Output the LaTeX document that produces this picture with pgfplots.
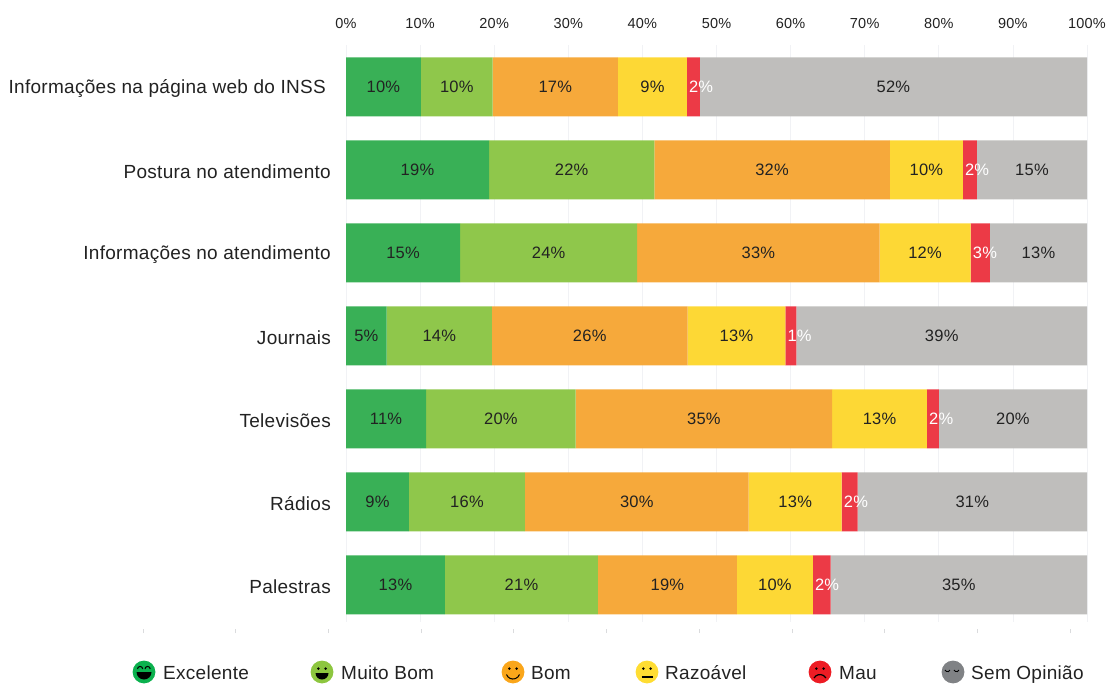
\documentclass[border=0pt]{standalone}
\usepackage{pgfplots}
\usepackage{pgfplotstable}
\usepackage{fontspec}
\setmainfont[LetterSpace=1.5]{Liberation Sans}
\pgfplotsset{compat=1.18}

\definecolor{cExc}{HTML}{39B056}
\definecolor{cMui}{HTML}{8FC74B}
\definecolor{cBom}{HTML}{F6A93B}
\definecolor{cRaz}{HTML}{FDD835}
\definecolor{cMau}{HTML}{EC3A46}
\definecolor{cSem}{HTML}{BFBEBC}
\definecolor{kExc}{HTML}{0BB14E}
\definecolor{kMui}{HTML}{8DC63F}
\definecolor{kBom}{HTML}{FAA61A}
\definecolor{kRaz}{HTML}{FFDD33}
\definecolor{kMau}{HTML}{ED1C24}
\definecolor{kSem}{HTML}{808285}
\definecolor{inkText}{HTML}{222222}
\definecolor{gridPale}{HTML}{F1F2F5}

% Percentages per channel, top row first; labels are these values rounded.
\pgfplotstableread{
row exc  mui  bom   raz  mau   sem
0   10.1 9.7  16.9  9.3  1.75  52.25
1   19.3 22.3 31.8  9.85 1.9   14.85
2   15.4 23.9 32.7  12.3 2.6   13.1
3   5.49 14.2 26.4  13.2 1.49  39.22
4   10.8 20.2 34.6  12.8 1.6   20.0
5   8.5  15.65 30.2 12.55 2.15 30.95
6   13.35 20.65 18.75 10.25 2.4 34.6
}\channels

% Legend key: a disc with a face drawn on it
\newcommand{\facekey}[3]{%
  \begin{scope}[shift={(#1,11)}]
    \fill[#2] (0,0) circle (11.4);
    #3
  \end{scope}}
\newcommand{\eyes}{\fill[black] (-3.6,3.4) circle (1.4) (3.6,3.4) circle (1.4);}
\newcommand{\legendtext}[2]{\node[anchor=base west,inner sep=0pt,text=inkText,font=\fontsize{19}{22}\selectfont] at (#1,3.5) {#2};}

\begin{document}
\begin{tikzpicture}[x=1pt,y=1pt]
\path[use as bounding box] (0,0) rectangle (1107,683);

% Faint ruler ticks under the chart
\begin{axis}[
  at={(143pt,54pt)}, anchor=south west,
  scale only axis, width=927pt, height=1pt,
  xmin=0, xmax=10, ymin=0, ymax=1,
  xtick={0,1,2,3,4,5,6,7,8,9,10}, ytick=\empty,
  xticklabels={}, axis x line=bottom, axis y line=none,
  axis line style={draw=none},
  tick align=outside, tickwidth=4pt,
  x tick style={draw=gridPale!80!gray, line width=0.8pt},
]
\end{axis}

\begin{axis}[
  at={(346pt,638pt)}, anchor=north west,
  scale only axis,
  width=741pt, height=577pt,
  xbar stacked, bar width=59pt,
  xmin=0, xmax=100,
  ymin=-0.506, ymax=6.446, y dir=reverse,
  axis line style={draw=none},
  major tick length=0pt,
  xmajorgrids, grid style={gridPale, line width=0.8pt},
  xtick={0,10,...,100},
  xticklabel={\pgfmathprintnumber{\tick}\%},
  xticklabel pos=top,
  /pgf/number format/assume math mode=true,
  xticklabel style={font=\fontsize{14.5}{16}\selectfont, text=inkText, yshift=13pt},
  ytick={0,...,6},
  yticklabels={Informações na página web do INSS\kern5pt, Postura no atendimento, Informações no atendimento, Journais, Televisões, Rádios, Palestras},
  yticklabel style={font=\fontsize{19}{20}\selectfont, text=inkText, xshift=-15pt, yshift=-1.5pt, inner sep=0pt},
  clip=false,
  visualization depends on={rawx\as\segv},
  nodes near coords={\pgfmathprintnumber[fixed,precision=0]{\segv}\%},
  every node near coord/.append style={
    font=\fontsize{16.5}{18}\selectfont, text=inkText,
    anchor=center, inner sep=0pt},
]
\addplot[fill=cExc,draw=none] table[x=exc,y=row] {\channels};
\addplot[fill=cMui,draw=none] table[x=mui,y=row] {\channels};
\addplot[fill=cBom,draw=none] table[x=bom,y=row] {\channels};
\addplot[fill=cRaz,draw=none] table[x=raz,y=row] {\channels};
% The narrow red segments carry white labels that start just inside the bar
\addplot[fill=cMau,draw=none,
  every node near coord/.append style={anchor=west, text=white, xshift=-\segv*3.705pt+2pt}] table[x=mau,y=row] {\channels};
\addplot[fill=cSem,draw=none] table[x=sem,y=row] {\channels};
\end{axis}

% Legend keys
\facekey{144}{kExc}{%
  \draw[black,line width=1pt] (-6.5,3) arc (180:0:2.6) (1,3) arc (180:0:2.6);
  \fill[black] (-7.5,0) -- (7.5,0) arc (0:-180:7.5) -- cycle;}
\legendtext{163}{Excelente}
\facekey{322}{kMui}{\eyes
  \fill[black] (-6.5,-1) -- (6.5,-1) arc (0:-180:6.5) -- cycle;}
\legendtext{341}{Muito Bom}
\facekey{513}{kBom}{\eyes
  \draw[black,line width=1pt] (-6.5,-2.5) arc (200:340:6.9);}
\legendtext{531}{Bom}
\facekey{647}{kRaz}{\eyes
  \draw[black,line width=1.2pt] (-5.5,-5) -- (5.5,-5);}
\legendtext{665}{Razoável}
\facekey{820}{kMau}{\eyes
  \draw[black,line width=1.2pt] (-6,-6) arc (150:30:6.9);}
\legendtext{839}{Mau}
\facekey{953}{kSem}{%
  \draw[black,line width=0.9pt] (-8,2) arc (200:340:2.6) (1,2) arc (200:340:2.6);}
\legendtext{971}{Sem Opinião}
\end{tikzpicture}
\end{document}
